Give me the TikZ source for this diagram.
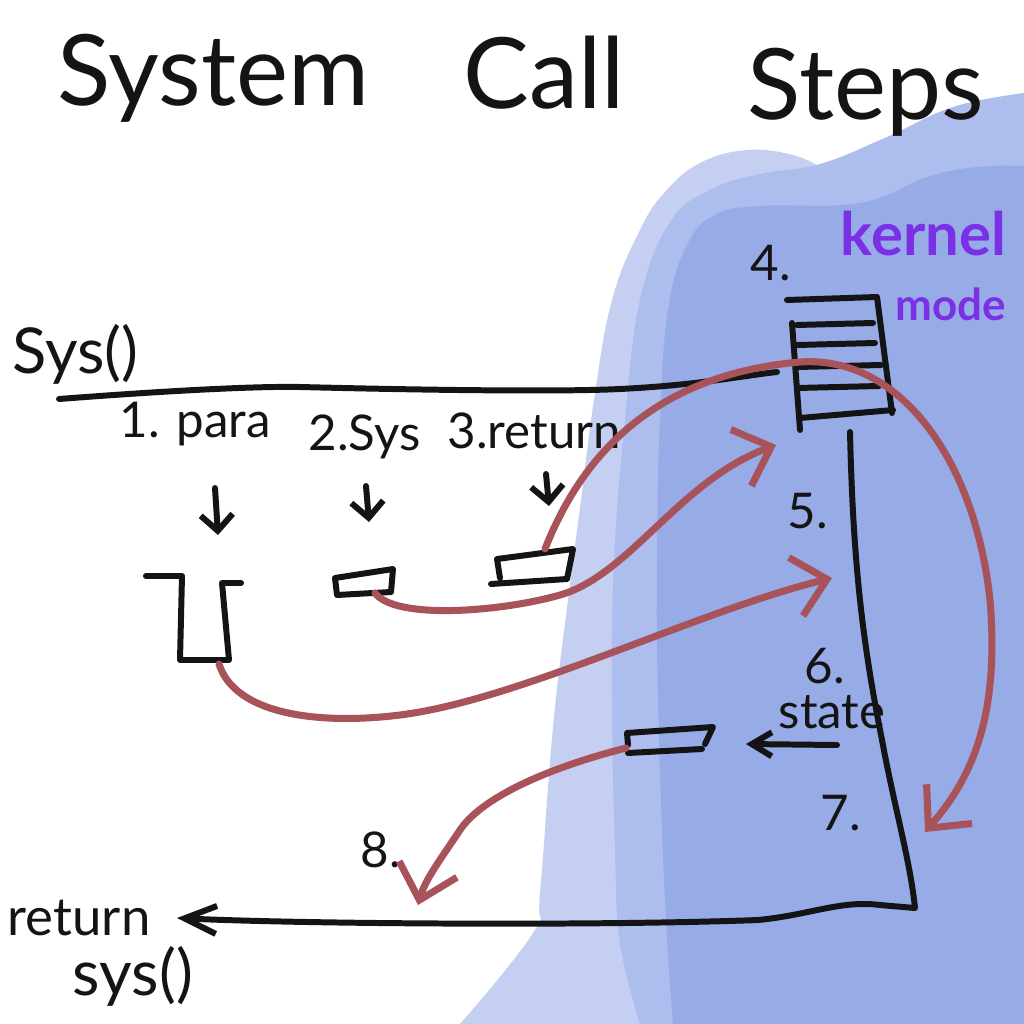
\documentclass[tikz,border=0pt]{standalone}
\usepackage{fontspec}
\setmainfont{Lato}
\usetikzlibrary{arrows.meta}
\definecolor{inkblack}{HTML}{141414}
\definecolor{redline}{HTML}{A8525A}
\definecolor{kernelpurple}{HTML}{7A31E6}
\definecolor{blueL}{HTML}{C4CFF2}
\definecolor{blueM}{HTML}{ADBDEE}
\definecolor{blueD}{HTML}{97ABE6}
\begin{document}
\begin{tikzpicture}[x=0.01cm, y=-0.01cm, >={Straight Barb[length=1.6mm,width=3.2mm]},
	ink/.style={draw=inkblack, line width=1.7pt, line cap=round, line join=round},
	redink/.style={draw=redline, line width=2pt, line cap=round, line join=round, -{Straight Barb[length=3.2mm,width=6mm]}},
	hand/.style={font=\fontsize{14}{16}\selectfont, inner sep=0pt, anchor=base west, text=inkblack},
	title/.style={hand, font=\fontsize{28}{32}\selectfont}]
				% 1. 背景色块 (底层)
				\fill[white] (0,0) rectangle (1024,1024);
				\useasboundingbox (0,0) rectangle (1024,1024);
				\fill[blueL] plot[smooth, tension=0.7] coordinates {(460,1024) (533,933) (540,893) (553,727) (568,600) (581,500) (594,400) (612,300) (640,230) (665,192) (700,163) (747,150) (793,155) (822,168)} -- (1024,168) -- (1024,1024) -- cycle;
				\fill[blueM] plot[smooth, tension=0.7] coordinates {(640,1024) (620,943) (615,850) (612,700) (614,560) (625,420) (640,300) (670,222) (710,190) (760,174) (820,164) (887,137) (953,107) (1024,93)} -- (1024,1024) -- cycle;
				\fill[blueD] plot[smooth, tension=0.7] coordinates {(673,1024) (665,900) (658,700) (657,560) (660,420) (668,310) (687,245) (715,215) (760,206) (860,203) (927,177) (977,167) (1024,166)} -- (1024,1024) -- cycle;
				
				% 2. 标题
				\node[title] (tSystem) at (57,105) {System};
				\node[title] (tCall) at (463,108) {Call};
				\node[title] (tSteps) at (747,120) {Steps};
				
				% 3. 用户态调用线
				\node[hand, font=\fontsize{18}{20}\selectfont] (lblSys) at (12,373) {Sys()};
				\coordinate (callL) at (59,399);
				\coordinate (stackL) at (777,372);
				\draw[ink] (callL) .. controls (150,392) and (250,386) .. (300,387) .. controls (420,390) and (560,392) .. (620,389) .. controls (700,385) and (740,376) .. (stackL);
				\node[hand] (lblPara) at (119,437) {1. para};
				\node[hand] (lblSysNo) at (308,450) {2.Sys};
				\node[hand] (lblRet) at (447,448) {3.return};
				\foreach \n/\x/\ya/\yb in {para/215/488/535, sys/366/486/522, ret/546/474/506} {
					\coordinate (\n Top) at (\x,\ya);
					\coordinate (\n Bot) at (\x+3,\yb);
					\draw[ink, ->] (\n Top) -- (\n Bot);
				}
				
				% 4. 三个小盒子
				\draw[ink] (146,576) -- (182,576) -- (180,660) -- (229,660) -- (222,583) -- (241,583);
				\draw[ink] (335,578) -- (393,569) -- (391,592) -- (337,595) -- cycle;
				\draw[ink] (500,578) -- (497,559) -- (573,549) -- (567,579) -- (491,584);
				\coordinate (paraOut) at (219,664);
				\coordinate (sysOut) at (375,593);
				\coordinate (retOut) at (545,549);
				
				% 5. 内核栈与返回线
				\node[hand] (n4) at (750,280) {4.};
				\draw[ink] (787,300) -- (877,297) -- (892,413);
				\draw[ink] (792,323) -- (800,430);
				\draw[ink] (800,418) -- (893,410);
				\foreach \y/\xe in {325/873, 345/875, 367/881, 388/879}
					\draw[ink] (797,\y) -- (\xe,\y-2);
				\coordinate (stackB) at (850,432);
				\coordinate (kCorner) at (915,908);
				\coordinate (retEnd) at (177,918);
				\draw[ink, -{Straight Barb[length=3.2mm,width=2.8mm]}] (stackB) .. controls (853,560) and (862,640) .. (882,740) .. controls (895,810) and (910,860) .. (kCorner) -- (880,905) .. controls (840,900) and (810,915) .. (758,920) .. controls (600,926) and (300,924) .. (retEnd);
				\node[hand] (n5) at (787,528) {5.};
				\node[hand] (n6) at (804,683) {6.};
				\node[hand] (lblState) at (778,728) {state};
				\node[hand] (n7) at (820,830) {7.};
				\node[hand] (n8) at (360,867) {8.};
				
				% 6. state 盒子
				\coordinate (stateR) at (837,745);
				\coordinate (stateL) at (746,744);
				\draw[ink, -{Straight Barb[length=2mm,width=2.4mm]}] (stateR) -- (stateL);
				\draw[ink] (628,745) -- (627,733) -- (713,727) -- (705,744);
				\draw[ink] (628,753) -- (702,749);
				\coordinate (stateOut) at (626,748);
				
				% 7. 红色流程箭头
				\coordinate (step5) at (832,578);
				\coordinate (step4) at (776,445);
				\coordinate (step7) at (925,832);
				\coordinate (step8) at (418,905);
				\draw[redink] (paraOut) .. controls (235,715) and (320,725) .. (400,715) .. controls (520,700) and (700,610) .. (step5);
				\draw[redink] (sysOut) .. controls (395,620) and (500,612) .. (560,595) .. controls (630,575) and (680,480) .. (step4);
				\draw[redink] (retOut) .. controls (580,460) and (650,375) .. (800,362) .. controls (900,355) and (975,460) .. (990,600) .. controls (1000,720) and (970,780) .. (step7);
				\draw[redink] (stateOut) .. controls (540,770) and (480,800) .. (460,830) .. controls (440,860) and (425,880) .. (step8);
				
				% 8. 文字标签
				\node[hand, font=\bfseries\fontsize{17}{20}\selectfont, text=kernelpurple] (lblKernel) at (840,255) {kernel};
				\node[hand, font=\bfseries\fontsize{12.5}{15}\selectfont, text=kernelpurple] (lblMode) at (895,320) {mode};
				\node[hand, font=\fontsize{15}{18}\selectfont] (lblReturn) at (7,935) {return};
				\node[hand, font=\fontsize{18}{20}\selectfont] (lblSysCall) at (72,995) {sys()};
			\end{tikzpicture}
\end{document}
